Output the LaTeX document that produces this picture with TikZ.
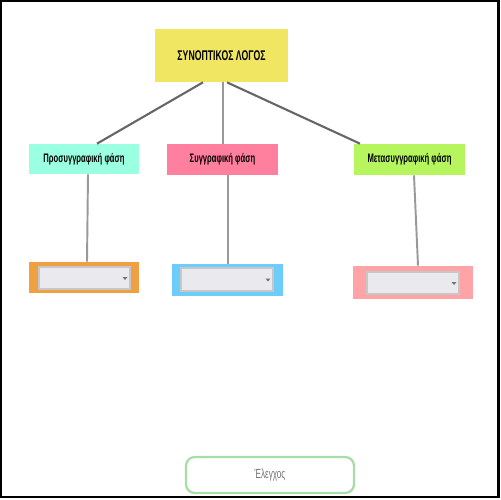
\documentclass[tikz,border=0pt]{standalone}
\usepackage{fontspec}
\setmainfont{Liberation Sans}
\newfontfamily\narrowfont[FakeStretch=0.62]{Liberation Sans}
\usetikzlibrary{calc}
\definecolor{cyellow}{HTML}{F0E662}
\definecolor{ccyan}{HTML}{9BFFE2}
\definecolor{cpink}{HTML}{FF7F9E}
\definecolor{cgreen}{HTML}{B6F55E}
\definecolor{corange}{HTML}{EFA043}
\definecolor{cblue}{HTML}{6CCDFB}
\definecolor{clred}{HTML}{FFA3A6}
\definecolor{cinner}{HTML}{E9E9EE}
\definecolor{cbtn}{HTML}{A9DDA8}
\tikzset{
  box/.style={rectangle, inner sep=0pt, font=\narrowfont\bfseries\fontsize{7}{8}\selectfont},
  frame/.style={rectangle, inner sep=0pt},
  dropdown/.style={rectangle, inner sep=0pt, fill=cinner, draw=black!22, line width=0.6pt},
  darkline/.style={draw=black!60, line width=1.2pt},
  lightline/.style={draw=black!40, line width=1.1pt},
  tri/.style={fill=black!55},
}
\begin{document}
\begin{tikzpicture}[x=0.02cm, y=-0.02cm]
\useasboundingbox (0,0) rectangle (500,500);
\draw[line width=1.2pt] (1,1) rectangle (498.5,497);

% top
\node[box, fill=cyellow, minimum width=133*0.02cm, minimum height=53*0.02cm,
  font=\narrowfont\bfseries\fontsize{8}{9}\selectfont] (top) at (221.5,55.5) {ΣΥΝΟΠΤΙΚΟΣ ΛΟΓΟΣ};

% phases
\node[box, fill=ccyan, minimum width=110*0.02cm, minimum height=30*0.02cm] (pre) at (84,159) {Προσυγγραφική φάση};
\node[box, fill=cpink, minimum width=111*0.02cm, minimum height=31*0.02cm] (wri) at (222.5,159.5) {Συγγραφική φάση};
\node[box, fill=cgreen, minimum width=111*0.02cm, minimum height=31*0.02cm] (post) at (409.5,159.5) {Μετασυγγραφική φάση};

% answer frames
\node[frame, fill=corange, minimum width=110*0.02cm, minimum height=31*0.02cm] (fa) at (84,277.5) {};
\node[dropdown, minimum width=91*0.02cm, minimum height=22*0.02cm] (da) at (84.5,278) {};
\node[frame, fill=cblue, minimum width=111*0.02cm, minimum height=32*0.02cm] (fb) at (227.5,280) {};
\node[dropdown, minimum width=92*0.02cm, minimum height=23*0.02cm] (db) at (227,279.5) {};
\node[frame, fill=clred, minimum width=120*0.02cm, minimum height=33*0.02cm] (fc) at (413,282.5) {};
\node[dropdown, minimum width=92*0.02cm, minimum height=22*0.02cm] (dc) at (413,283) {};

% dropdown arrows
\foreach \d in {da,db,dc}{
  \fill[tri] ($(\d.east)+(-8,-1)$) -- ($(\d.east)+(-3,-1)$) -- ($(\d.east)+(-5.5,2)$) -- cycle;
}

% button
\node[rectangle, rounded corners=5pt, draw=cbtn, line width=1.3pt, fill=white,
  minimum width=168*0.02cm, minimum height=36*0.02cm, text=black!55,
  font=\narrowfont\fontsize{7.5}{8}\selectfont] (btn) at (270,475) {Έλεγχος};

% connectors
\draw[darkline] ($(top.south)+(-18.5,0)$) -- ($(pre.north)+(13,0)$);
\draw[lightline] ($(top.south)+(1.5,0)$) -- ($(wri.north)+(0.5,0)$);
\draw[darkline] ($(top.south)+(5.5,0)$) -- ($(post.north)+(-49.5,0)$);

\draw[lightline] ($(pre.south)+(4,0)$) -- ($(fa.north)+(3,0)$);
\draw[lightline] ($(wri.south)+(5.5,0)$) -- ($(fb.north)+(0.5,0)$);
\draw[lightline] ($(post.south)+(4.5,0)$) -- ($(fc.north)+(5,0)$);
\end{tikzpicture}
\end{document}
